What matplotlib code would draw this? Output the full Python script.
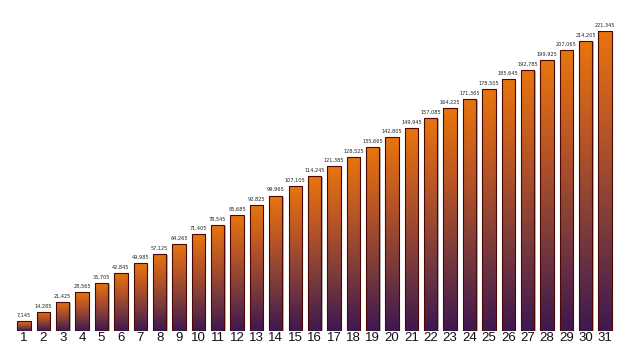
import numpy as np
import matplotlib
matplotlib.use('Agg')
import matplotlib.pyplot as plt
from matplotlib.colors import LinearSegmentedColormap

# Данные
days = list(range(1, 32))
values = [7.145, 14.285, 21.425, 28.565, 35.705, 42.845, 49.985, 57.125,
          64.265, 71.405, 78.545, 85.685, 92.825, 99.965, 107.105, 114.245,
          121.385, 128.525, 135.665, 142.805, 149.945, 157.085, 164.225,
          171.365, 178.505, 185.645, 192.785, 199.925, 207.065, 214.205,
          221.345]
labels = [f'{v:.3f}'.rstrip('0').replace('.', ',') for v in values]

cmap = LinearSegmentedColormap.from_list(
    'bar_grad', ['#3e1850', '#7a3a3c', '#b85526', '#e8750e'])

XMIN, XMAX = -0.239, 32.801

fig = plt.figure(figsize=(6.4, 3.6), dpi=100)
ax = fig.add_axes([0, 29 / 360, 1, 300 / 360])
ax.axis('off')

width = 0.69
grad = np.linspace(0, 1, 256).reshape(-1, 1)

# тень
ax.bar(np.array(days) + 0.07, values, width=width, bottom=-0.9,
       color='#b5b5b5', zorder=1)
bars = ax.bar(days, values, width=width, color='none',
              edgecolor='#4a0800', linewidth=0.8, zorder=3)

for b, lab in zip(bars, labels):
    x0, h = b.get_x(), b.get_height()
    im = ax.imshow(grad, cmap=cmap, origin='lower', aspect='auto',
                   extent=[x0, x0 + width, 0, h], zorder=2)
    im.set_clip_path(b)
    ax.text(x0 + width / 2, h + 2.4, lab, ha='center', va='bottom',
            fontsize=3.6, color='#222222')

ax.set_xlim(XMIN, XMAX)
ax.set_ylim(0, max(values))

for d in days:
    fig.text((d - XMIN) / (XMAX - XMIN), 22 / 360, str(d), ha='center',
             va='center', fontsize=9.5, family='Liberation Sans',
             color='#111111')

fig.savefig('out.png', dpi=100)
